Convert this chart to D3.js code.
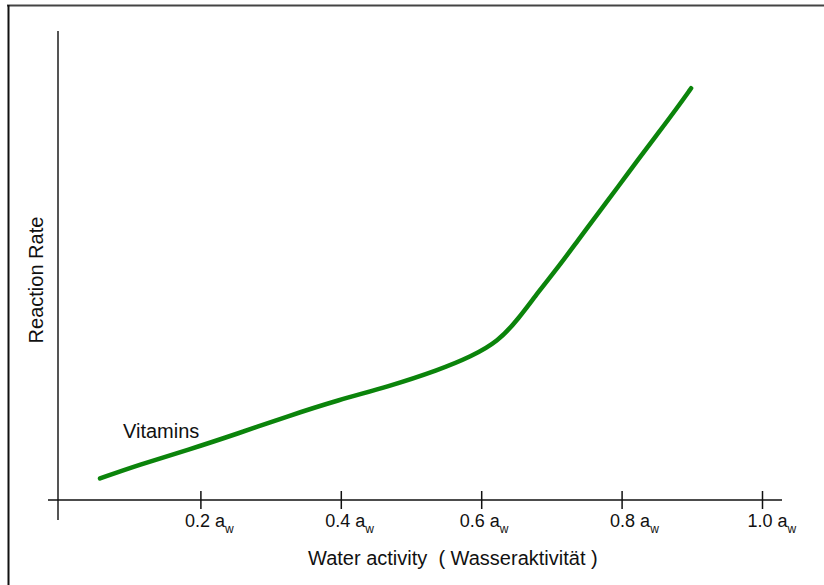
<!DOCTYPE html>
<html>
<head>
    <meta charset="utf-8">
    <style>
        body { margin: 0; background: #fff; }
        svg { font-family: Arial, "Liberation Sans", sans-serif; }
        .tick-label { font-size: 18px; fill: #111; }
        .tick-label .sub { font-size: 12px; }
        .title { font-size: 20px; fill: #111; white-space: pre; }
    </style>
</head>
<body>
    <script src="https://d3js.org/d3.v7.min.js"></script>
    <script>
        var width = 824,
            height = 585;

        // water activity ticks
        var tickValues = [0.2, 0.4, 0.6, 0.8, 1.0];
        var tickLabels = ["0.2", "0.4", "0.6", "0.8", "1.0"];

        // vitamins curve (relative reaction rate)
        var aw = [0.057, 0.112, 0.183, 0.254, 0.325, 0.396, 0.468, 0.539, 0.586,
                  0.624, 0.653, 0.681, 0.710, 0.738, 0.767, 0.795, 0.824, 0.852, 0.880, 0.899];
        var rate = [0.046, 0.075, 0.107, 0.142, 0.179, 0.213, 0.242, 0.277, 0.306,
                    0.338, 0.386, 0.443, 0.497, 0.554, 0.612, 0.668, 0.727, 0.782, 0.838, 0.878];

        var seriesName = "Vitamins";

        var x = d3.scaleLinear().domain([0, 1]).range([60, 762]);
        var y = d3.scaleLinear().domain([0, 1]).range([500, 31]);

        var svg = d3.select("body").append("svg")
            .attr("width", width)
            .attr("height", height);

        // frame (only top and left survive the crop)
        svg.append("line")
            .attr("x1", 7).attr("x2", width).attr("y1", 5.5).attr("y2", 5.5)
            .attr("stroke", "#444").attr("stroke-width", 2);
        svg.append("line")
            .attr("x1", 8.5).attr("x2", 8.5).attr("y1", 5).attr("y2", height)
            .attr("stroke", "#111").attr("stroke-width", 2);

        // y axis (no ticks)
        svg.append("line")
            .attr("x1", 58).attr("x2", 58)
            .attr("y1", y(1)).attr("y2", 520)
            .attr("stroke", "#555").attr("stroke-width", 2);

        // x axis
        var xAxis = d3.axisBottom(x)
            .tickValues(tickValues)
            .tickSize(0)
            .tickFormat("");

        var gx = svg.append("g")
            .attr("transform", "translate(0," + y(0) + ")")
            .call(xAxis);
        gx.select(".domain").remove();

        gx.append("line")
            .attr("x1", 48).attr("x2", 782)
            .attr("stroke", "#111").attr("stroke-width", 1.5);

        gx.selectAll(".tick").append("line")
            .attr("y1", -9).attr("y2", 9)
            .attr("stroke", "#111").attr("stroke-width", 1.5);

        var labelNudge = [0, 0, -6, 4, 1];

        gx.selectAll(".tick").each(function (d, i) {
            var t = d3.select(this).append("text")
                .attr("class", "tick-label")
                .attr("x", -16 + labelNudge[i])
                .attr("y", 27)
                .attr("text-anchor", "start");
            t.append("tspan").text(tickLabels[i] + " a");
            t.append("tspan").attr("class", "sub").attr("dy", 6).text("w");
        });

        // curve
        var pts = aw.map(function (v, i) { return [v, rate[i]]; });

        var line = d3.line()
            .x(function (d) { return x(d[0]); })
            .y(function (d) { return y(d[1]); })
            .curve(d3.curveBasis);

        svg.append("path")
            .datum(pts)
            .attr("d", line)
            .attr("fill", "none")
            .attr("stroke", "#0b840b")
            .attr("stroke-width", 4.5)
            .attr("stroke-linecap", "round");

        svg.append("text")
            .attr("class", "title")
            .attr("x", 123)
            .attr("y", 438)
            .text(seriesName);

        // axis titles
        svg.append("text")
            .attr("class", "title")
            .attr("x", 308)
            .attr("y", 565)
            .text("Water activity  ( Wasseraktivität )");

        svg.append("text")
            .attr("class", "title")
            .attr("transform", "translate(43,280) rotate(-90)")
            .attr("text-anchor", "middle")
            .text("Reaction Rate");
    </script>
</body>
</html>
